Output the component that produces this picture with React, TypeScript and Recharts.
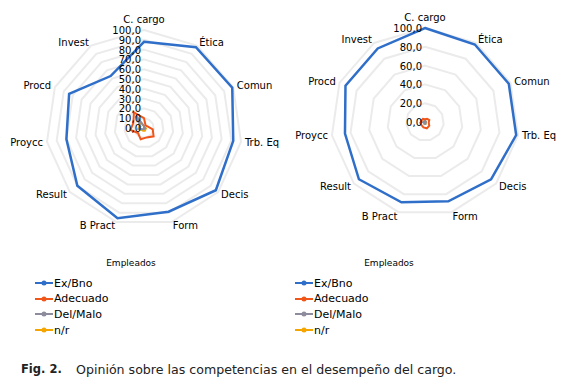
import { RadarChart, Radar, PolarGrid, PolarAngleAxis, PolarRadiusAxis } from 'recharts';

// Competencias evaluadas (Fig. 2)
const categories = ['C. cargo', 'Ética', 'Comun', 'Trb. Eq', 'Decis', 'Form', 'B Pract', 'Result', 'Proycc', 'Procd', 'Invest'];

const seriesNames = ['Ex/Bno', 'Adecuado', 'Del/Malo', 'n/r'];
const seriesColors = ['#2f6fc9', '#f0561a', '#8c8c9c', '#f5a500'];

// left chart
const leftExBno = [88, 98, 99, 92, 97, 89, 96, 90, 80, 84, 63];
const leftAdecuado = [10, 3, 4, 9, 13, 10, 12, 8, 14, 12, 19];
const leftDelMalo = [2, 0, 0, 2, 1, 1, 1, 2, 5, 4, 15];
const leftNr = [2, 1, 1, 2, 2, 3, 3, 3, 6, 5, 8];
const leftTicks = [0, 10, 20, 30, 40, 50, 60, 70, 80, 90, 100];

// right chart
const rightExBno = [100, 98, 98, 98, 93, 88, 89, 93, 86, 93, 93];
const rightAdecuado = [3, 4, 5, 4, 6, 7, 6, 5, 5, 4, 4];
const rightDelMalo = [0, 1, 1, 1, 1, 2, 2, 1, 2, 1, 2];
const rightNr = [1, 1, 1, 1, 1, 2, 2, 1, 2, 1, 1];
const rightTicks = [0, 20, 40, 60, 80, 100];

const FONT = '"DejaVu Sans", Verdana, sans-serif';

const buildData = (series: number[][]) =>
  categories.map((name, i) => {
    const row: Record<string, string | number> = { name };
    seriesNames.forEach((s, k) => {
      row[s] = series[k][i];
    });
    return row;
  });

const fmt = (v: number) => v.toFixed(1).replace('.', ',');

// angle labels centred vertically on the tick point, top one pushed a bit higher
const AngleTick = (props: any) => {
  const { x, y, cy, textAnchor, payload } = props;
  const up = textAnchor === 'middle' && y < cy ? -7 : 0;
  return (
    <text x={x} y={y + up} textAnchor={textAnchor} dominantBaseline="central" fontSize={10} fill="#000" fontFamily={FONT}>
      {payload.value}
    </text>
  );
};

function Panel({ data, ticks, cx, cy, r }: { data: any[]; ticks: number[]; cx: number; cy: number; r: number }) {
  return (
    <RadarChart width={290} height={245} data={data} cx={cx} cy={cy} outerRadius={r} margin={{ top: 0, right: 0, bottom: 0, left: 0 }}>
      <PolarGrid gridType="polygon" radialLines={false} stroke="#ebebeb" strokeWidth={2} />
      <PolarAngleAxis dataKey="name" tick={(p: any) => <AngleTick {...p} cy={cy} />} tickSize={4} tickLine={false} axisLine={false} />
      <PolarRadiusAxis
        angle={90}
        domain={[0, 100]}
        ticks={ticks as any}
        orientation="left"
        axisLine={false}
        tickLine={false}
        tickFormatter={fmt}
        tick={{ fontSize: 10, fill: '#000', fontFamily: FONT, dx: -3, dy: 4 }}
      />
      {seriesNames
        .slice()
        .reverse()
        .map((s) => {
          const color = seriesColors[seriesNames.indexOf(s)];
          const main = s === 'Ex/Bno';
          return (
            <Radar
              key={s}
              dataKey={s}
              stroke={color}
              strokeWidth={main ? 2.5 : 2}
              fill="none"
              fillOpacity={0}
              dot={{ r: main ? 3 : 3.5, fill: color, stroke: color, strokeWidth: 0 }}
              isAnimationActive={false}
            />
          );
        })}
    </RadarChart>
  );
}

function LegendBox({ left, titleCenter }: { left: number; titleCenter: number }) {
  return (
    <>
      <div style={{ position: 'absolute', left: titleCenter - 40, top: 258, width: 80, textAlign: 'center', fontSize: 9, fontFamily: FONT, color: '#000' }}>
        Empleados
      </div>
      {seriesNames.map((s, i) => (
        <div key={s} style={{ position: 'absolute', left, top: 275 + i * 15.7, height: 16, display: 'flex', alignItems: 'center', fontSize: 11, fontFamily: FONT, color: '#000' }}>
          <svg width={20} height={16}>
            <line x1={1} y1={8} x2={19} y2={8} stroke={seriesColors[i]} strokeWidth={2} />
            <circle cx={10} cy={8} r={2.5} fill={seriesColors[i]} />
          </svg>
          <span style={{ marginLeft: 0 }}>{s}</span>
        </div>
      ))}
    </>
  );
}

export default function App() {
  const left = buildData([leftExBno, leftAdecuado, leftDelMalo, leftNr]);
  const right = buildData([rightExBno, rightAdecuado, rightDelMalo, rightNr]);
  return (
    <div style={{ position: 'absolute', left: 0, top: 0, width: 580, height: 387, background: '#fff', overflow: 'hidden' }}>
      <div style={{ position: 'absolute', left: 0, top: 0 }}>
        <Panel data={left} ticks={leftTicks} cx={144} cy={128} r={98} />
      </div>
      <div style={{ position: 'absolute', left: 290, top: 0 }}>
        <Panel data={right} ticks={rightTicks} cx={135} cy={122} r={94} />
      </div>
      <LegendBox left={34} titleCenter={131} />
      <LegendBox left={294} titleCenter={389} />
      <div style={{ position: 'absolute', left: 21, top: 362, fontSize: 11.5, fontWeight: 'bold', fontFamily: FONT, color: '#222', whiteSpace: 'nowrap' }}>
        Fig. 2.
      </div>
      <div style={{ position: 'absolute', left: 76, top: 362, fontSize: 12.6, fontFamily: FONT, color: '#222', whiteSpace: 'nowrap' }}>
        Opinión sobre las competencias en el desempeño del cargo.
      </div>
    </div>
  );
}
